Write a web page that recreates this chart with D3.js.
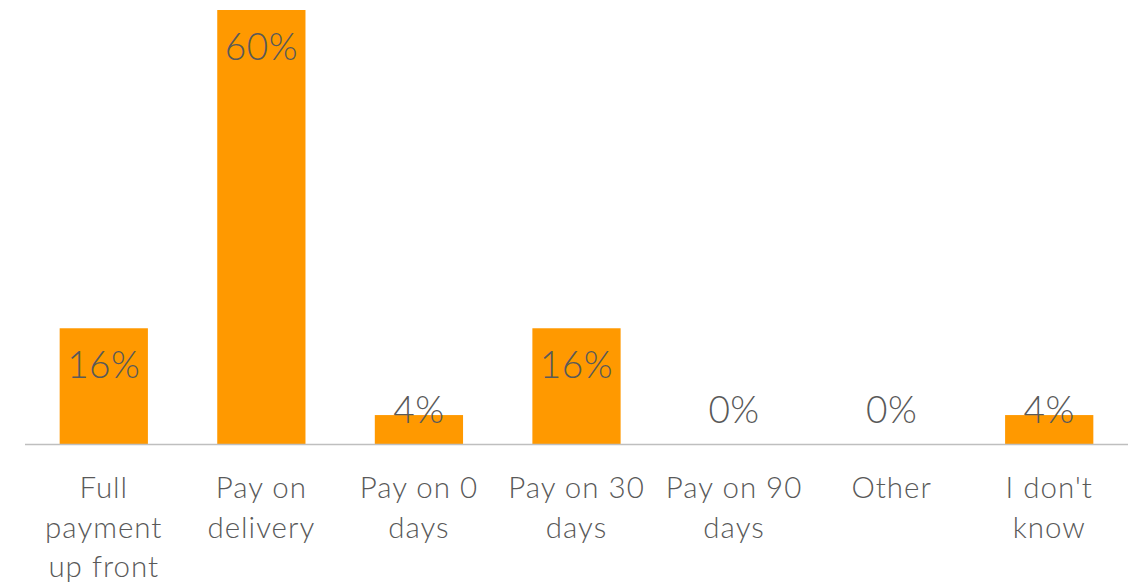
<!DOCTYPE html>
<html>
<head>
<meta charset="utf-8">
<script src="https://cdn.jsdelivr.net/npm/d3@7"></script>
<style>
  body { margin: 0; background: #fff; }
  text { font-family: Lato, "Open Sans", sans-serif; font-weight: 300; fill: #595959; }
</style>
</head>
<body>
<div id="chart"></div>
<script>
var categories = ["Full payment up front", "Pay on delivery", "Pay on 0 days", "Pay on 30 days", "Pay on 90 days", "Other", "I don't know"];
var values = [16, 60, 4, 16, 0, 0, 4];

var width = 1138, height = 584;
var margin = {top: 10, right: 10, bottom: 140, left: 25};
var baseline = height - margin.bottom;

var svg = d3.select("#chart").append("svg")
    .attr("width", width)
    .attr("height", height);

var x = d3.scaleBand()
    .domain(categories)
    .range([margin.left, width - margin.right])
    .paddingInner(0.44)
    .paddingOuter(0.22);

var y = d3.scaleLinear()
    .domain([0, 60])
    .range([baseline, margin.top]);

svg.selectAll(".bar")
    .data(values)
  .enter().append("rect")
    .attr("class", "bar")
    .attr("x", function(d, i) { return x(categories[i]); })
    .attr("y", function(d) { return y(d); })
    .attr("width", x.bandwidth())
    .attr("height", function(d) { return baseline - y(d); })
    .attr("fill", "#FF9900");

svg.append("line")
    .attr("x1", margin.left)
    .attr("x2", width - margin.right)
    .attr("y1", baseline + 0.5)
    .attr("y2", baseline + 0.5)
    .attr("stroke", "#BFBFBF")
    .attr("stroke-width", 1.5);

svg.selectAll(".val")
    .data(values)
  .enter().append("text")
    .attr("class", "val")
    .attr("x", function(d, i) { return x(categories[i]) + x.bandwidth() / 2; })
    .attr("y", function(d) { return Math.min(y(d) + 50, baseline - 21); })
    .attr("text-anchor", "middle")
    .attr("font-size", "37px")
    .attr("letter-spacing", "0.5px")
    .text(function(d) { return d + "%"; });

// category labels, wrapped to the band step
var labels = svg.selectAll(".cat")
    .data(categories)
  .enter().append("text")
    .attr("class", "cat")
    .attr("x", function(d) { return x(d) + x.bandwidth() / 2; })
    .attr("y", baseline + 54)
    .attr("text-anchor", "middle")
    .attr("font-size", "29.5px")
    .attr("letter-spacing", "1px");

labels.each(function(d) {
  var t = d3.select(this), words = d.split(" "), line = [];
  var cx = t.attr("x");
  var tspan = t.append("tspan").attr("x", cx).attr("dy", 0);
  words.forEach(function(w) {
    line.push(w);
    tspan.text(line.join(" "));
    if (tspan.node().getComputedTextLength() > 145 && line.length > 1) {
      line.pop();
      tspan.text(line.join(" "));
      line = [w];
      tspan = t.append("tspan").attr("x", cx).attr("dy", "39.5px").text(w);
    }
  });
});
</script>
</body>
</html>
